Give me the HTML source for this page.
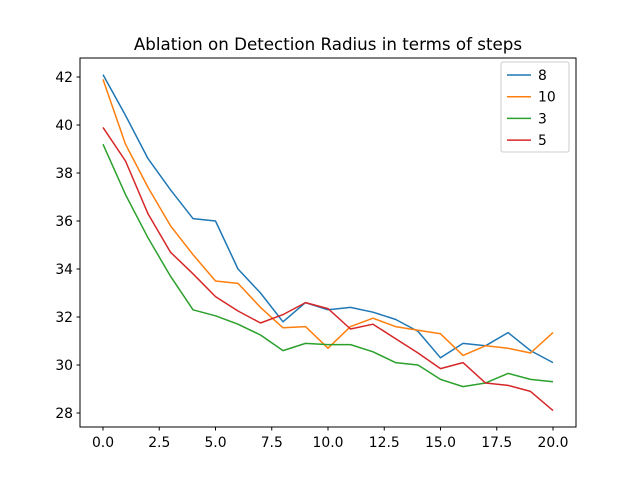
<!DOCTYPE html>
<html><head><meta charset="utf-8"><style>body{margin:0;background:#fff}svg{display:block;font-family:"DejaVu Sans","Liberation Sans",sans-serif}</style></head>
<body>
<svg id="chart" width="640" height="480">
<rect x="0" y="0" width="640" height="480" fill="#fff"/>
<text x="328" y="50" text-anchor="middle" font-size="16.7">Ablation on Detection Radius in terms of steps</text>
<g id="plot"></g>
<rect x="80" y="58" width="496" height="369" fill="none" stroke="#000" stroke-width="1"/>
</svg>
<script>
const xs = [0,1,2,3,4,5,6,7,8,9,10,11,12,13,14,15,16,17,18,19,20];
const seriesNames = ["8","10","3","5"];
const seriesColors = ["#1f77b4","#ff7f0e","#2ca02c","#d62728"];
const s8 = [42.1,40.4,38.6,37.3,36.1,36.0,34.0,33.0,31.8,32.6,32.3,32.4,32.2,31.9,31.4,30.3,30.9,30.8,31.35,30.6,30.1];
const s10 = [41.9,39.2,37.4,35.8,34.6,33.5,33.4,32.4,31.55,31.6,30.7,31.6,31.95,31.6,31.45,31.3,30.4,30.8,30.7,30.5,31.35];
const s3 = [39.2,37.1,35.3,33.7,32.3,32.05,31.7,31.25,30.6,30.9,30.85,30.85,30.55,30.1,30.0,29.4,29.1,29.25,29.65,29.4,29.3];
const s5 = [39.9,38.5,36.3,34.7,33.8,32.85,32.25,31.75,32.1,32.6,32.35,31.5,31.7,31.1,30.5,29.85,30.1,29.25,29.15,28.9,28.1];
const xTicks = [0,2.5,5,7.5,10,12.5,15,17.5,20];
const xTickLabels = ["0.0","2.5","5.0","7.5","10.0","12.5","15.0","17.5","20.0"];
const yTicks = [28,30,32,34,36,38,40,42];

const X = v => 103 + v*22.5;
const Y = v => 77 + (42 - v)*24;
const NS = "http://www.w3.org/2000/svg";
const g = document.getElementById("plot");
function mk(t, a){const e=document.createElementNS(NS,t);for(const k in a)e.setAttribute(k,a[k]);g.appendChild(e);return e;}

xTicks.forEach((t,i)=>{
  const l=mk("line",{x1:X(t),x2:X(t),y1:427,y2:430.5,stroke:"#000"});
  
  
  const tx=mk("text",{x:X(t),y:447,"text-anchor":"middle","font-size":"13.9"});
  tx.textContent=xTickLabels[i];
  
  
});
yTicks.forEach(t=>{
  const l=mk("line",{x1:76.5,x2:80,y1:Y(t),y2:Y(t),stroke:"#000"});
  
  
  const tx=mk("text",{x:73,y:Y(t)+5,"text-anchor":"end","font-size":"13.9"});
  tx.textContent=String(t);
  
  
});
[s8,s10,s3,s5].forEach((s,i)=>{
  const p=mk("polyline",{points:s.map((v,j)=>X(xs[j])+","+Y(v)).join(" "),fill:"none",stroke:seriesColors[i],"stroke-width":"1.5","stroke-linejoin":"round"});
  
  
});
const lb=mk("rect",{x:501,y:62,width:68,height:90,rx:2,fill:"#fff","fill-opacity":"0.8",stroke:"#ccc"});


seriesNames.forEach((n,i)=>{
  const y=75+i*21.7;
  const l=mk("line",{x1:507,x2:531,y1:y,y2:y,stroke:seriesColors[i],"stroke-width":"1.5"});
  
  
  const t=mk("text",{x:538,y:y+5,"font-size":"13.9"});
  t.textContent=n;
  
  
});
</script>
</body></html>
